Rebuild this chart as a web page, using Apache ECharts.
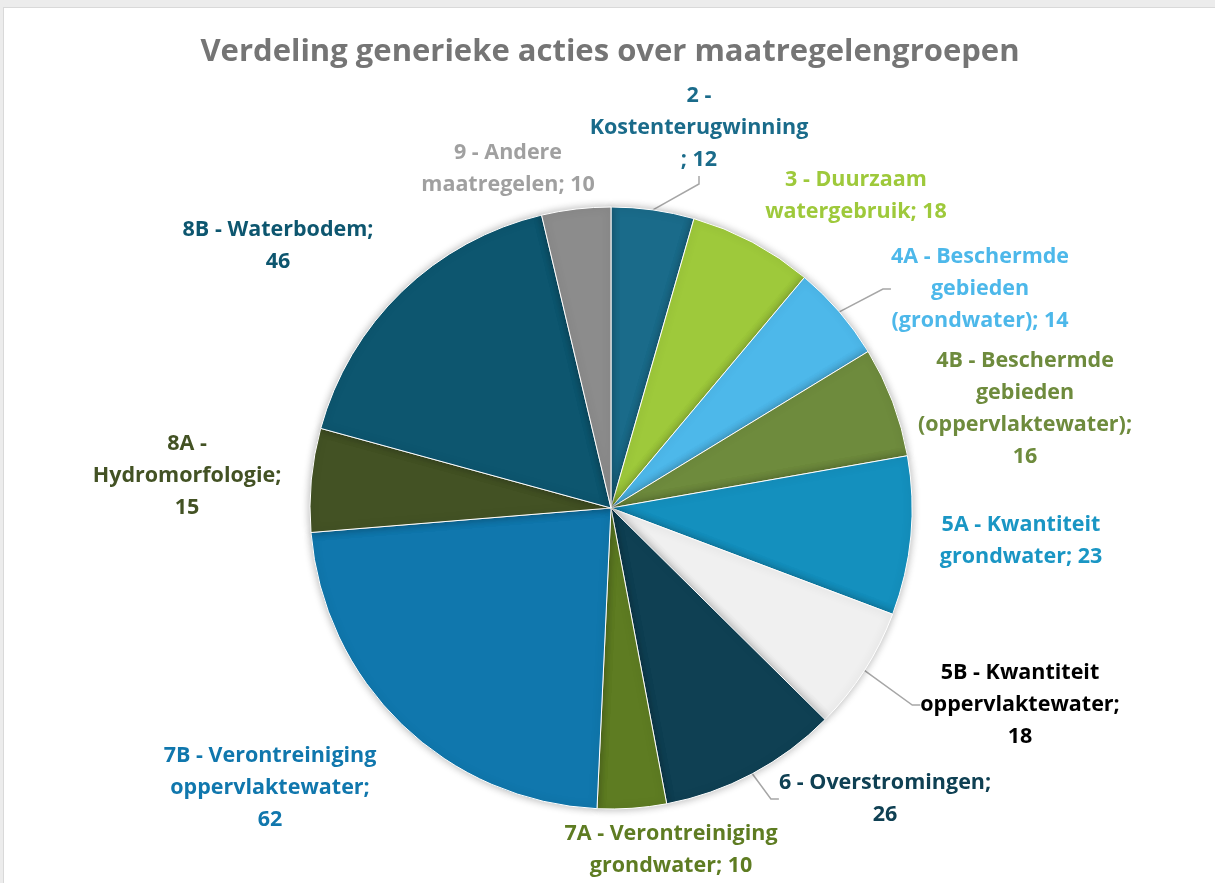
<!DOCTYPE html>
<html>
<head>
<meta charset="utf-8">
<script src="https://cdn.jsdelivr.net/npm/echarts@6/dist/echarts.min.js"></script>
<style>
  html, body { margin: 0; padding: 0; background: #fff; }
  #frame { position: absolute; left: 0; top: 0; width: 1215px; height: 883px; background: #ececec; }
  #main { position: absolute; left: 3px; top: 7px; width: 1212px; height: 876px; background: #fff; border-left: 1px solid #d9d9d9; border-top: 1px solid #d9d9d9; }
</style>
</head>
<body>
<div id="frame"></div>
<div id="main"></div>
<script>
// categories (wrapped as in the picture), values and how the value is joined on
const names = [
  '2 -\nKostenterugwinning',
  '3 - Duurzaam\nwatergebruik',
  '4A - Beschermde\ngebieden\n(grondwater)',
  '4B - Beschermde\ngebieden\n(oppervlaktewater)',
  '5A - Kwantiteit\ngrondwater',
  '5B - Kwantiteit\noppervlaktewater',
  '6 - Overstromingen',
  '7A - Verontreiniging\ngrondwater',
  '7B - Verontreiniging\noppervlaktewater',
  '8A -\nHydromorfologie',
  '8B - Waterbodem',
  '9 - Andere\nmaatregelen'
]
const values = [12, 18, 14, 16, 23, 18, 26, 10, 62, 15, 46, 10]
const joins = ['\n; ', '; ', '; ', ';\n', '; ', ';\n', ';\n', '; ', ';\n', ';\n', ';\n', '; ']

const colors = ['#1a6b8a', '#9ec93b', '#4db8ea', '#6e8b3d', '#1490be', '#f0f0f0',
  '#0f4053', '#5e7c22', '#1077ad', '#435224', '#0d566f', '#8c8c8c']
const labelColors = ['#1a6b8a', '#9ec93b', '#4db8ea', '#6e8b3d', '#1a96c4', '#000000',
  '#0f4053', '#5e7c22', '#1077ad', '#435224', '#0d566f', '#a0a0a0']

// label centres (page coordinates)
const labelPos = [[699, 128], [856, 196], [980, 289], [1025, 409], [1021, 541], [1020, 705],
  [885, 799], [671, 850], [270, 788], [187, 476], [278, 246], [508, 169]]
const withLine = [true, false, true, false, false, true, true, false, false, false, false, false]
const offX = 4, offY = 8

let chart = echarts.init(document.getElementById('main'))

chart.setOption({
  animation: false,
  title: {
    text: 'Verdeling generieke acties over maatregelengroepen',
    left: 'center',
    top: 24,
    textStyle: { fontFamily: 'Open Sans', fontWeight: 'bold', fontSize: 31, color: '#757575' }
  },
  series: [
    {
      type: 'pie',
      center: [607, 500],
      radius: 301,
      startAngle: 90,
      clockwise: true,
      itemStyle: {
        borderColor: '#ffffff',
        borderWidth: 1,
        shadowBlur: 8,
        shadowColor: 'rgba(0,0,0,0.3)'
      },
      label: {
        show: true,
        fontFamily: 'Open Sans',
        fontWeight: 'bold',
        fontSize: 21.5,
        lineHeight: 32,
        formatter: p => p.name + joins[p.dataIndex] + p.value
      },
      labelLine: {
        show: true,
        length: 10,
        length2: 8,
        lineStyle: { color: '#a6a6a6', width: 1.5 }
      },
      labelLayout: p => ({
        x: labelPos[p.dataIndex][0] - offX,
        y: labelPos[p.dataIndex][1] - offY,
        align: 'center',
        verticalAlign: 'middle'
      }),
      data: values.map((v, i) => ({
        name: names[i],
        value: v,
        itemStyle: { color: colors[i] },
        label: { color: labelColors[i] },
        labelLine: { show: withLine[i] }
      }))
    }
  ]
})
</script>
</body>
</html>
